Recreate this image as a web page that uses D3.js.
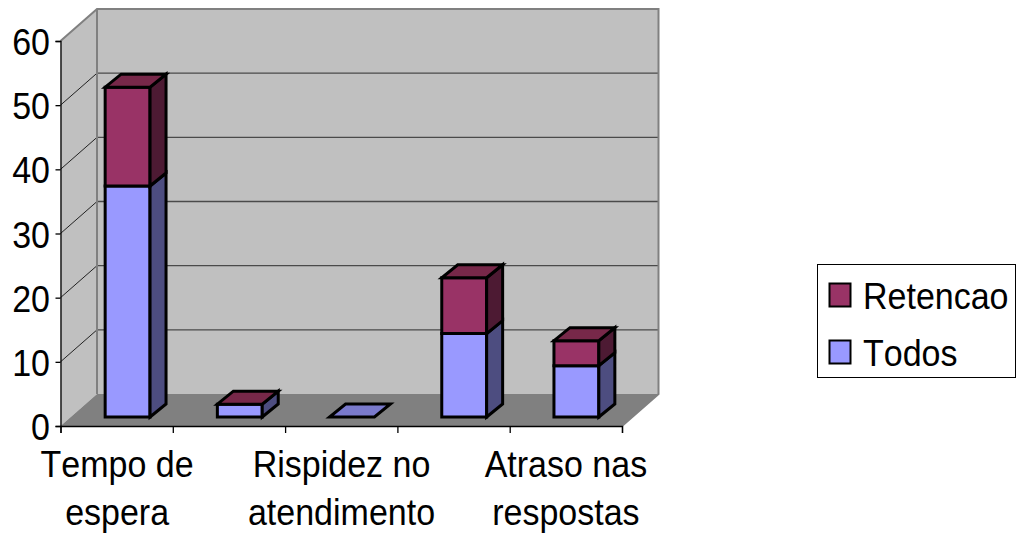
<!DOCTYPE html>
<html>
<head>
<meta charset="utf-8">
<script src="https://cdnjs.cloudflare.com/ajax/libs/d3/7.8.5/d3.min.js"></script>
<style>
html,body{margin:0;padding:0;background:#fff}
svg{display:block}
text{font-family:"Liberation Sans",Arial,sans-serif;font-size:34px;font-kerning:none;fill:#000}
</style>
</head>
<body>
<svg id="chart" width="1022" height="534"></svg>
<script>
// Chart data
const categories = ["Tempo de espera", "", "Rispidez no atendimento", "", "Atraso nas respostas"];
const labelLines = [["Tempo de", "espera"], [], ["Rispidez no", "atendimento"], [], ["Atraso nas", "respostas"]];
const todos = [36, 2, 0, 13, 8];
const retencao = [15.4, 0, null, 8.7, 3.9];
const valueTicks = [0, 10, 20, 30, 40, 50, 60];
const legendNames = ["Retencao", "Todos"];

const colors = {
  Retencao: {front: "#993366", top: "#772849", side: "#4d1a33"},
  Todos: {front: "#9999ff", top: "#7a7acc", side: "#4d4d80"}
};

const svg = d3.select("#chart");
const stretch = 1.1; // text is slightly taller than wide

// Front plane scales
const x = d3.scaleBand().domain(d3.range(categories.length)).range([61, 622])
  .paddingInner(0.6).paddingOuter(0.3);
const xEdges = d3.scaleLinear().domain([0, categories.length]).range([60.5, 622]);
const y = d3.scaleLinear().domain([0, 60]).range([426, 41]);

// Oblique projection: t=0 is the front plane, t=1 the back wall
const depthX = 36.5, depthY = -32;
const pt = (px, v, t) => [px + depthX * t, y(v) + depthY * t];
const poly = (g, pts, fill, stroke, sw) => g.append("polygon")
  .attr("points", pts.map(p => p.join(",")).join(" "))
  .attr("fill", fill).attr("stroke", stroke).attr("stroke-width", sw)
  .attr("stroke-linejoin", "miter");

const x0 = xEdges.range()[0], x1 = xEdges.range()[1];

// Walls and floor
const room = svg.append("g");
poly(room, [pt(x0, 0, 0), pt(x0, 60, 0), pt(x0, 60, 1), pt(x0, 0, 1)], "#c0c0c0", "none", 0);
poly(room, [pt(x0, 0, 1), pt(x0, 60, 1), pt(x1, 60, 1), pt(x1, 0, 1)], "#c0c0c0", "none", 0);
poly(room, [pt(x0, 0, 0), pt(x0, 0, 1), pt(x1, 0, 1), pt(x1, 0, 0)], "#808080", "none", 0);

// Gridlines across the side wall and back wall
const grid = svg.append("g").attr("fill", "none");
valueTicks.filter(v => v > 0 && v < 60).forEach(v => {
  grid.append("path")
    .attr("d", d3.line()([pt(x0, v, 0), pt(x0, v, 1)]))
    .attr("stroke", "#222").attr("stroke-width", 1);
  grid.append("path")
    .attr("d", d3.line()([pt(x0, v, 1), pt(x1, v, 1)]))
    .attr("stroke", "#4a4a4a").attr("stroke-width", 1.3);
});

// Wall outline
svg.append("path").attr("fill", "none").attr("stroke", "#808080").attr("stroke-width", 2)
  .attr("d", d3.line()([pt(x0, 60, 0), pt(x0, 60, 1), pt(x1, 60, 1), pt(x1, 0, 1), pt(x1, 0, 0)]));
svg.append("path").attr("fill", "none").attr("stroke", "#808080").attr("stroke-width", 2)
  .attr("d", d3.line()([pt(x0, 60, 1), pt(x0, 0, 1)]));

// Axes
const axisLeft = d3.axisLeft(y).tickValues(valueTicks).tickSize(5).tickFormat("");
const axisBottom = d3.axisBottom(xEdges).ticks(categories.length).tickSize(7).tickFormat("");
svg.append("g").attr("transform", `translate(${x0},0)`).call(axisLeft)
  .call(g => g.selectAll("path,line").attr("stroke", "#000").attr("stroke-width", 1.3));
svg.append("g").attr("transform", `translate(0,${y(0)})`).call(axisBottom)
  .call(g => g.selectAll("path,line").attr("stroke", "#000").attr("stroke-width", 1.3));

// Columns stand a little inside the floor, with their own shallow depth
const inset = [10.5, -9], barDepth = [16, -13];
const front = (px, v) => [px + inset[0], y(v) + inset[1]];
const back = (px, v) => [px + inset[0] + barDepth[0], y(v) + inset[1] + barDepth[1]];

// One box of a stacked column, running from value a to value b
function box(g, i, a, b, c) {
  const l = x(i), r = l + x.bandwidth();
  if (b > a) {
    poly(g, [front(l, a), front(l, b), front(r, b), front(r, a)], c.front, "#000", 3);
    poly(g, [front(r, a), front(r, b), back(r, b), back(r, a)], c.side, "#000", 3);
  }
  return [front(l, b), front(r, b), back(r, b), back(l, b)];
}

const bars = svg.append("g");
categories.forEach((_, i) => {
  const g = bars.append("g");
  const base = todos[i];
  let topFace = box(g, i, 0, base, colors.Todos);
  let topColor = colors.Todos.top;
  if (retencao[i] !== null) {
    topFace = box(g, i, base, base + retencao[i], colors.Retencao);
    topColor = colors.Retencao.top;
  }
  poly(g, topFace, topColor, "#000", 3);
});

// Stretched text helper
function label(px, py, str, anchor) {
  svg.append("text")
    .attr("transform", `translate(${px},${py}) scale(1,${stretch})`)
    .attr("text-anchor", anchor)
    .text(str);
}

// Value labels
valueTicks.forEach(v => label(50, y(v) + 14, v, "end"));

// Category labels, two lines each on every other band
labelLines.forEach((lines, i) => {
  lines.forEach((s, k) => label(x(i) + x.bandwidth() / 2, 477 + k * 48, s, "middle"));
});

// Legend
svg.append("rect").attr("x", 817.5).attr("y", 264.5).attr("width", 198).attr("height", 113)
  .attr("fill", "#fff").attr("stroke", "#000").attr("stroke-width", 1);
legendNames.forEach((name, i) => {
  const ly = 283.5 + i * 57;
  svg.append("rect").attr("x", 829.5).attr("y", ly).attr("width", 21).attr("height", 23)
    .attr("fill", colors[name].front).attr("stroke", "#000").attr("stroke-width", 2);
  label(863, ly + 25, name, "start");
});
</script>
</body>
</html>
